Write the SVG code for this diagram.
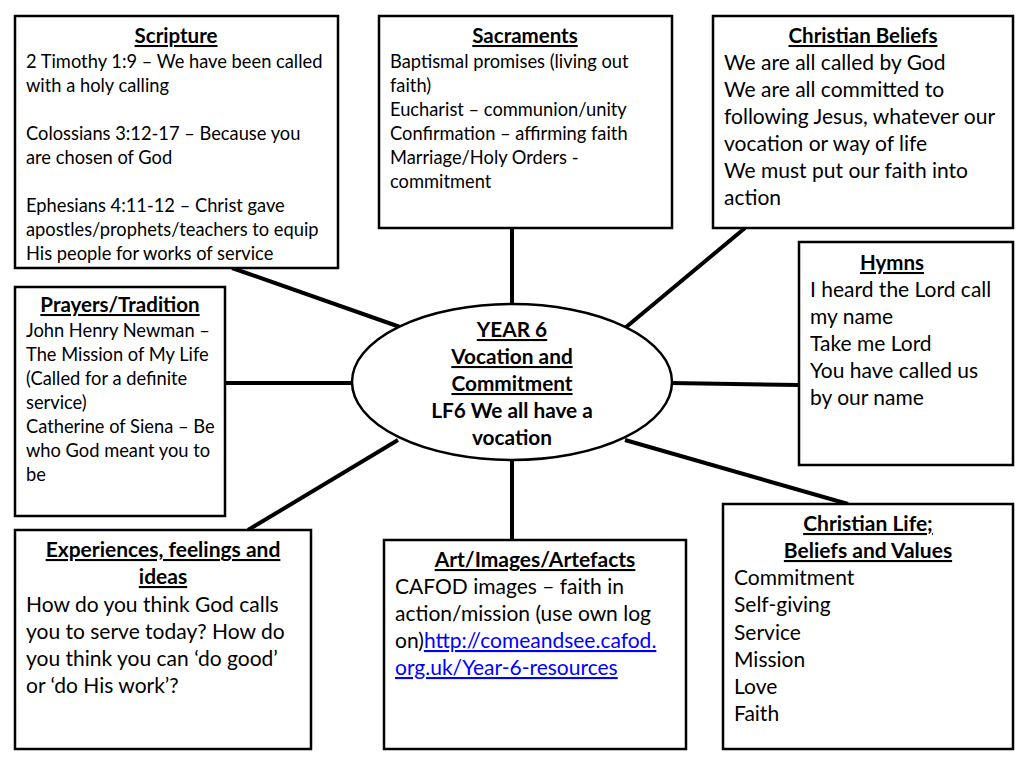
<svg xmlns="http://www.w3.org/2000/svg" width="1024" height="768" viewBox="0 0 1024 768">
<style>
.box{fill:#fff;stroke:#000;stroke-width:2.5}
.con line{stroke:#000;stroke-width:4}
text{font-family:Lato,"Noto Sans",sans-serif;fill:#000}
.s{font-size:18.3px}
.m{font-size:21px}
.t{font-size:20.5px;font-weight:bold;text-decoration:underline;text-anchor:middle}
.tm{font-size:21px;font-weight:bold;text-decoration:underline;text-anchor:middle}
.c{font-size:20.8px;font-weight:bold;text-anchor:middle}
.u{text-decoration:underline}
.lnk{fill:#0000ff;text-decoration:underline}
</style>
<rect width="1024" height="768" fill="#fff"/>
<g class="con">
<line x1="232" y1="268" x2="400" y2="327"/>
<line x1="512" y1="228" x2="512" y2="305"/>
<line x1="745" y1="228" x2="625" y2="328"/>
<line x1="671" y1="383" x2="799" y2="385"/>
<line x1="225" y1="383" x2="353" y2="383"/>
<line x1="248" y1="530" x2="398" y2="440"/>
<line x1="512" y1="459" x2="512" y2="540"/>
<line x1="625" y1="440" x2="848" y2="504"/>
</g>
<g id="scripture">
<rect class="box" x="15" y="16" width="323" height="252"/>
<text class="t" x="176" y="43">Scripture</text>
<text class="s" x="26" y="68">2 Timothy 1:9 – We have been called</text>
<text class="s" x="26" y="92">with a holy calling</text>
<text class="s" x="26" y="140">Colossians 3:12-17 – Because you</text>
<text class="s" x="26" y="164">are chosen of God</text>
<text class="s" x="26" y="212">Ephesians 4:11-12 – Christ gave</text>
<text class="s" x="26" y="236">apostles/prophets/teachers to equip</text>
<text class="s" x="26" y="260">His people for works of service</text>
</g>
<g id="sacraments">
<rect class="box" x="379" y="16" width="293" height="212"/>
<text class="t" x="525" y="43">Sacraments</text>
<text class="s" x="390" y="68">Baptismal promises (living out</text>
<text class="s" x="390" y="92">faith)</text>
<text class="s" x="390" y="116">Eucharist – communion/unity</text>
<text class="s" x="390" y="140">Confirmation – affirming faith</text>
<text class="s" x="390" y="164">Marriage/Holy Orders -</text>
<text class="s" x="390" y="188">commitment</text>
</g>
<g id="beliefs">
<rect class="box" x="713" y="16" width="300" height="212"/>
<text class="t" x="863" y="43">Christian Beliefs</text>
<text class="m" x="724" y="70">We are all called by God</text>
<text class="m" x="724" y="97">We are all committed to</text>
<text class="m" x="724" y="124">following Jesus, whatever our</text>
<text class="m" x="724" y="151">vocation or way of life</text>
<text class="m" x="724" y="178">We must put our faith into</text>
<text class="m" x="724" y="205">action</text>
</g>
<g id="hymns">
<rect class="box" x="799" y="242" width="214" height="223"/>
<text class="t" x="892" y="270">Hymns</text>
<text class="m" x="810" y="297">I heard the Lord call</text>
<text class="m" x="810" y="324">my name</text>
<text class="m" x="810" y="351">Take me Lord</text>
<text class="m" x="810" y="378">You have called us</text>
<text class="m" x="810" y="405">by our name</text>
</g>
<g id="prayers">
<rect class="box" x="15" y="287" width="210" height="229"/>
<text class="t" x="120" y="312">Prayers/Tradition</text>
<text class="s" x="26" y="337">John Henry Newman –</text>
<text class="s" x="26" y="361">The Mission of My Life</text>
<text class="s" x="26" y="385">(Called for a definite</text>
<text class="s" x="26" y="409">service)</text>
<text class="s" x="26" y="433">Catherine of Siena – Be</text>
<text class="s" x="26" y="457">who God meant you to</text>
<text class="s" x="26" y="481">be</text>
</g>
<g id="centre">
<ellipse class="box" cx="512" cy="382" rx="160" ry="78"/>
<text class="c u" x="512" y="337">YEAR 6</text>
<text class="c u" x="512" y="364">Vocation and</text>
<text class="c u" x="512" y="391">Commitment</text>
<text class="c" x="512" y="418">LF6 We all have a</text>
<text class="c" x="512" y="445">vocation</text>
</g>
<g id="experiences">
<rect class="box" x="15" y="530" width="296" height="219"/>
<text class="tm" x="163" y="557">Experiences, feelings and</text>
<text class="tm" x="163" y="584">ideas</text>
<text class="m" x="26" y="612">How do you think God calls</text>
<text class="m" x="26" y="639">you to serve today? How do</text>
<text class="m" x="26" y="666">you think you can ‘do good’</text>
<text class="m" x="26" y="693">or ‘do His work’?</text>
</g>
<g id="art">
<rect class="box" x="384" y="540" width="302" height="209"/>
<text class="tm" x="535" y="567">Art/Images/Artefacts</text>
<text class="m" x="395" y="594">CAFOD images – faith in</text>
<text class="m" x="395" y="621">action/mission (use own log</text>
<text class="m" x="395" y="648">on)<tspan class="lnk">http://comeandsee.cafod.</tspan></text>
<text class="m lnk" x="395" y="675">org.uk/Year-6-resources</text>
</g>
<g id="life">
<rect class="box" x="723" y="504" width="290" height="245"/>
<text class="tm" x="868" y="531">Christian Life;</text>
<text class="tm" x="868" y="558">Beliefs and Values</text>
<text class="m" x="734" y="585">Commitment</text>
<text class="m" x="734" y="612">Self-giving</text>
<text class="m" x="734" y="640">Service</text>
<text class="m" x="734" y="667">Mission</text>
<text class="m" x="734" y="694">Love</text>
<text class="m" x="734" y="721">Faith</text>
</g>
</svg>
